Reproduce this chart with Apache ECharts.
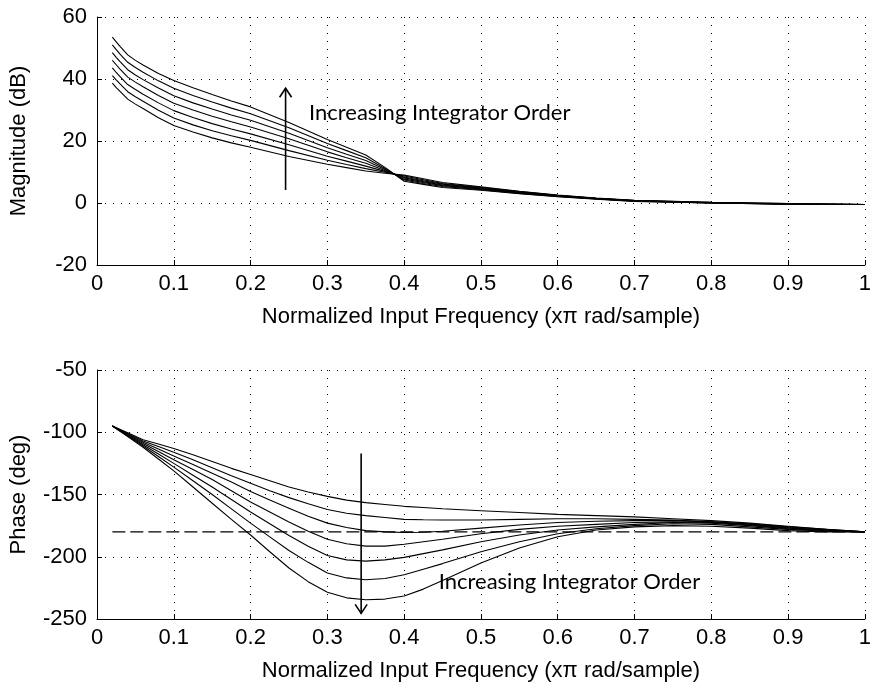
<!DOCTYPE html>
<html>
<head>
<meta charset="utf-8">
<script src="https://cdn.jsdelivr.net/npm/echarts@6/dist/echarts.min.js"></script>
<style>
html,body{margin:0;padding:0;background:#fff;}
#chart{width:874px;height:688px;}
</style>
</head>
<body>
<div id="chart"></div>
<script>
// ---- Magnitude response (dB), 7 integrator orders (order 1 = lowest) ----
const freqMag = [0.02,0.025,0.03,0.04,0.05,0.06,0.08,0.1,0.125,0.15,0.175,0.2,0.25,0.3,0.325,0.35,0.375,0.4,0.425,0.45,0.5,0.55,0.6,0.65,0.7,0.8,0.9,1.0];
const magOrder1 = [38.7,37.2,36.0,33.5,31.9,30.5,27.5,25.0,22.9,21.0,19.4,18.0,15.0,12.5,11.4,10.3,9.6,9.0,7.8,6.6,5.2,3.8,2.6,1.6,0.9,0.2,-0.2,-0.5];
const magOrder2 = [41.1,39.7,38.4,35.9,34.3,32.8,29.9,27.4,25.2,23.3,21.7,20.2,16.9,13.8,12.4,11.1,9.9,8.7,7.5,6.3,5.0,3.7,2.5,1.5,0.8,0.2,-0.2,-0.5];
const magOrder3 = [43.6,42.1,40.8,38.2,36.6,35.1,32.3,29.8,27.6,25.6,23.9,22.3,18.8,15.1,13.5,11.9,10.2,8.4,7.2,6.1,4.8,3.5,2.4,1.5,0.8,0.1,-0.3,-0.5];
const magOrder4 = [46.0,44.6,43.2,40.6,39.0,37.5,34.7,32.2,30.0,28.0,26.2,24.5,20.7,16.5,14.6,12.8,10.5,8.1,6.9,5.8,4.6,3.4,2.3,1.4,0.7,0.1,-0.3,-0.5];
const magOrder5 = [48.5,47.0,45.6,43.0,41.3,39.8,37.1,34.6,32.3,30.3,28.4,26.7,22.5,17.8,15.7,13.7,10.8,7.7,6.6,5.6,4.5,3.3,2.2,1.4,0.7,0.0,-0.3,-0.5];
const magOrder6 = [51.0,49.5,48.0,45.4,43.7,42.2,39.4,37.0,34.7,32.6,30.6,28.8,24.3,19.2,16.9,14.6,11.1,7.4,6.3,5.3,4.3,3.1,2.1,1.3,0.6,0.0,-0.4,-0.5];
const magOrder7 = [53.5,52.0,50.5,47.8,46.0,44.5,41.8,39.5,37.2,35.0,32.9,31.0,26.0,20.5,18.0,15.5,11.5,7.0,6.0,5.0,4.1,3.0,2.0,1.2,0.5,0.0,-0.4,-0.5];

// ---- Phase response (deg) ----
const freqPhase = [0.02,0.04,0.06,0.08,0.1,0.125,0.15,0.175,0.2,0.225,0.25,0.275,0.3,0.325,0.35,0.375,0.4,0.425,0.45,0.5,0.55,0.6,0.65,0.7,0.75,0.8,0.85,0.9,0.95,1.0];
const phaseOrder1 = [-95,-100.5,-106,-109.5,-113,-118,-123.5,-129,-134,-139,-144,-148,-151.5,-154.5,-156.5,-158,-159.5,-160.5,-161.5,-163,-164.5,-166,-167,-168,-169.5,-171,-173,-175.5,-178,-180];
const phaseOrder2 = [-95,-101,-107,-111.5,-116,-122,-128.5,-135,-141,-147,-152.5,-157.5,-162,-165,-167,-168.5,-170,-170.3,-170.5,-170.5,-170,-169.5,-169.5,-170,-170.5,-172,-173.5,-176,-178,-180];
const phaseOrder3 = [-95,-101.5,-108,-113.5,-119,-126,-133,-140,-147.5,-154.5,-161,-167.5,-173,-176.5,-179,-180,-180.5,-180.3,-179.5,-177,-174.5,-172.5,-171.5,-171,-171,-172,-174,-176.5,-178.5,-180];
const phaseOrder4 = [-95,-102,-109,-115.5,-122,-130,-138,-147,-156,-164,-172,-179.5,-186,-189.5,-191.5,-191.5,-190,-188,-186,-181.5,-178,-175.5,-174,-172.5,-172,-172.5,-174.5,-177,-178.5,-180];
const phaseOrder5 = [-95,-102.5,-110,-117.5,-125,-134.5,-144,-154,-164,-173.5,-183,-191.5,-199,-202.5,-203.5,-202.5,-200.5,-197.5,-194.5,-188,-182.5,-178.5,-176,-174,-172.5,-173,-175,-177.5,-179,-180];
const phaseOrder6 = [-95,-103,-111,-119.5,-128,-139,-150,-161.5,-173,-184,-195,-204.5,-213,-217,-218.5,-217.5,-214.5,-210,-205.5,-196,-188,-181.5,-177.5,-175,-173.5,-174,-176,-178,-179.5,-180];
const phaseOrder7 = [-95,-103.5,-112,-121.5,-131,-144,-157,-170,-182.5,-196,-209,-220,-228.5,-233,-234.5,-234,-231.5,-226,-219,-205,-193,-184,-178.5,-176,-175,-175.5,-177,-179,-180,-180];

// reference line at -180 deg
const refFreq = [0.02, 1.0];
const refPhase = [-180, -180];

// axis ticks
const xTicks = {min: 0, max: 1, interval: 0.1};
const magTicks = {min: -20, max: 60, interval: 20};
const phaseTicks = {min: -250, max: -50, interval: 50};

// titles / annotations
const xName = 'Normalized Input Frequency (x\u03c0 rad/sample)';
const magName = 'Magnitude (dB)';
const phaseName = 'Phase (deg)';
const noteText = 'Increasing Integrator Order';
// [arrowX, arrowFrom, arrowTo, textX, textY]
const magNote = [0.2456, 4.2, 37, 0.276, 29];
const phaseNote = [0.344, -117, -245.5, 0.445, -220];

const magSeries = [magOrder1, magOrder2, magOrder3, magOrder4, magOrder5, magOrder6, magOrder7];
const phaseSeries = [phaseOrder1, phaseOrder2, phaseOrder3, phaseOrder4, phaseOrder5, phaseOrder6, phaseOrder7];

const matFont = 'Liberation Sans';
const axisFontSize = 22;

function xAxisCfg(gridIndex) {
  return {
    type: 'value', gridIndex, min: xTicks.min, max: xTicks.max, interval: xTicks.interval,
    name: xName, nameLocation: 'middle', nameGap: 41,
    nameTextStyle: {fontFamily: matFont, fontSize: axisFontSize, color: '#000'},
    axisLine: {onZero: false, lineStyle: {color: '#000', width: 1}},
    axisTick: {show: true, inside: true, length: 5, lineStyle: {color: '#000'}},
    axisLabel: {fontFamily: matFont, fontSize: axisFontSize, color: '#000', margin: 8},
    splitLine: {show: true, lineStyle: {color: '#000', type: [1, 7], width: 1}}
  };
}
function yAxisCfg(gridIndex, t, name) {
  return {
    type: 'value', gridIndex, min: t.min, max: t.max, interval: t.interval,
    name, nameLocation: 'middle', nameGap: 67,
    nameTextStyle: {fontFamily: matFont, fontSize: axisFontSize, color: '#000'},
    axisLine: {show: true, onZero: false, lineStyle: {color: '#000', width: 1}},
    axisTick: {show: true, inside: true, length: 5, lineStyle: {color: '#000'}},
    axisLabel: {fontFamily: matFont, fontSize: axisFontSize, color: '#000', margin: 10},
    splitLine: {show: true, lineStyle: {color: '#000', type: [1, 7], width: 1}}
  };
}

function lineSeries(xs, ys, axisIndex, extra) {
  return Object.assign({
    type: 'line', xAxisIndex: axisIndex, yAxisIndex: axisIndex,
    data: xs.map((x, i) => [x, ys[i]]),
    showSymbol: false, symbol: 'none', smooth: false,
    lineStyle: {color: '#000', width: 1.1}, silent: true, animation: false, z: 3
  }, extra || {});
}

function noteSeries(axisIndex, note, headUp) {
  return {
    type: 'custom', xAxisIndex: axisIndex, yAxisIndex: axisIndex,
    data: [note], silent: true, animation: false, z: 10, clip: false,
    encode: {x: [0, 3], y: [1, 2, 4]},
    renderItem: function (params, api) {
      const a = api.coord([api.value(0), api.value(1)]);
      const b = api.coord([api.value(0), api.value(2)]);
      const t = api.coord([api.value(3), api.value(4)]);
      const dir = headUp ? 1 : -1;
      return {
        type: 'group',
        children: [
          {type: 'line', shape: {x1: a[0], y1: a[1], x2: b[0], y2: b[1]},
           style: {stroke: '#000', lineWidth: 1.6}},
          {type: 'polyline', shape: {points: [[b[0] - 6, b[1] + dir * 9], [b[0], b[1]], [b[0] + 6, b[1] + dir * 9]]},
           style: {stroke: '#000', fill: null, lineWidth: 1.6}},
          {type: 'text', x: t[0], y: t[1],
           style: {text: noteText, fontFamily: 'Lato', fontSize: 22, fill: '#000', align: 'left', verticalAlign: 'middle'}}
        ]
      };
    }
  };
}

const series = [];
magSeries.forEach(ys => series.push(lineSeries(freqMag, ys, 0)));
phaseSeries.forEach(ys => series.push(lineSeries(freqPhase, ys, 1)));
series.push(lineSeries(refFreq, refPhase, 1, {lineStyle: {color: '#000', width: 1.3, type: [13, 5]}}));
series.push(noteSeries(0, magNote, true));
series.push(noteSeries(1, phaseNote, false));

const chart = echarts.init(document.getElementById('chart'), null, {renderer: 'canvas'});
chart.setOption({
  animation: false,
  backgroundColor: '#fff',
  grid: [
    {left: 97, right: 3, top: 17, height: 248, containLabel: false},
    {left: 97, right: 3, top: 370, height: 249, containLabel: false}
  ],
  xAxis: [xAxisCfg(0), xAxisCfg(1)],
  yAxis: [yAxisCfg(0, magTicks, magName), yAxisCfg(1, phaseTicks, phaseName)],
  series
});
</script>
</body>
</html>
